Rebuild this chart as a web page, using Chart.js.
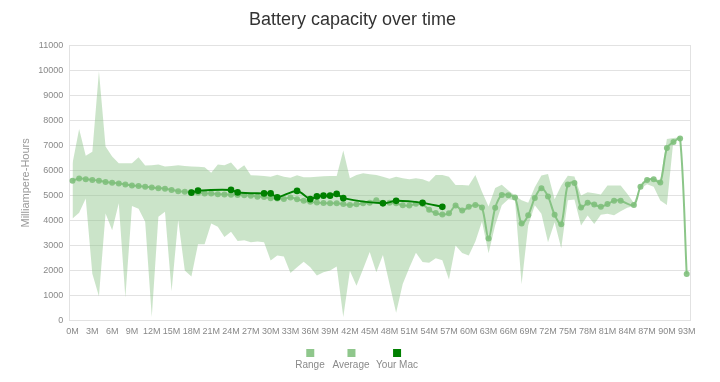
<!DOCTYPE html>
<html><head><meta charset="utf-8">
<script src="https://cdn.jsdelivr.net/npm/chart.js@4.4.0/dist/chart.umd.min.js"></script>
<style>
html,body{margin:0;padding:0;background:#fff;}
#wrap{position:relative;width:720px;height:382px;overflow:hidden;}
#legend .item{position:absolute;top:349px;transform:translateX(-50%);text-align:center;font-family:'Liberation Sans',Arial,sans-serif;font-size:10px;line-height:12px;color:#8a8a8a;white-space:nowrap;}
#legend .box{width:8px;height:8px;margin:0 auto 2px auto;}
</style></head><body>
<div id="wrap"><canvas id="c" width="720" height="382"></canvas><div id="legend"></div></div>
<script>
const months = [0,1,2,3,4,5,6,7,8,9,10,11,12,13,14,15,16,17,18,19,20,21,22,23,24,25,26,27,28,29,30,31,32,33,34,35,36,37,38,39,40,41,42,43,44,45,46,47,48,49,50,51,52,53,54,55,56,57,58,59,60,61,62,63,64,65,66,67,68,69,70,71,72,73,74,75,76,77,78,79,80,81,82,83,84,85,86,87,88,89,90,91,92,93];

const rangeHigh = [6290,7660,6590,6750,9970,6960,6560,6290,6290,6290,
 6530,6200,6210,6240,6160,6180,6210,6180,6160,6150,
 6130,5910,6240,6210,6320,6020,6210,5810,5800,5780,
 5750,5830,5750,5710,5810,5730,5730,5750,5770,5780,
 5780,6800,5690,5820,5890,5850,5820,5750,5670,5750,
 5690,5650,5690,5650,5550,5820,5820,5750,5420,5420,
 5400,5820,5150,4550,5300,5430,5200,5000,4800,4700,
 5330,5800,5860,4850,5400,5790,5760,5000,5130,5090,
 5040,5400,5400,5400,5070,4690,5400,5650,5690,5600,
 7260,7300,7330,1855];

const rangeLow = [4070,4300,4880,1860,960,4270,3600,4680,910,4570,
 4460,3940,130,4140,4340,1160,4010,1990,1750,3040,
 3040,3870,3740,3330,3540,3170,3200,3120,3150,3120,
 2390,2590,2550,1890,2120,2340,2120,1790,1920,1990,
 2150,130,1980,1380,2050,2730,1920,2610,1450,300,
 1450,2100,2700,2330,2300,2480,2400,1630,2990,2690,
 2590,3150,3950,2680,3800,4600,4850,4800,1440,3790,
 4600,4260,3120,3920,2880,4800,4840,3790,4190,3850,
 4220,4260,4200,4360,4500,4570,5280,5450,5350,4790,
 4610,7230,7290,1855];

const average = [5590,5680,5650,5620,5590,5540,5510,5480,5440,5400,
 5380,5350,5320,5290,5270,5220,5170,5150,5130,5110,
 5080,5080,5050,5040,5030,5020,5010,4990,4950,4940,
 4890,4880,4860,4920,4850,4780,4740,4710,4690,4680,
 4680,4650,4610,4640,4680,4700,4800,4700,4700,4680,
 4600,4590,4660,4650,4420,4290,4230,4280,4590,4390,
 4540,4610,4510,3270,4500,5020,5010,4920,3870,4200,
 4900,5290,4960,4220,3840,5440,5500,4510,4700,4630,
 4545,4650,4785,4785,null,4610,5350,5620,5650,5515,
 6895,7137,7280,1855];

const yourMac = [null,null,null,null,null,null,null,null,null,null,
 null,null,null,null,null,null,null,null,5110,5190,
 null,null,null,null,5220,5120,null,null,null,5080,
 5080,4920,null,null,5180,null,4850,4960,4990,4990,
 5060,4890,null,null,null,null,null,4680,null,4780,
 null,null,null,4700,null,null,4540,null,null,null,
 null,null,null,null,null,null,null,null,null,null,
 null,null,null,null,null,null,null,null,null,null,
 null,null,null,null,null,null,null,null,null,null,
 null,null,null,null];

const yMin = 0, yMax = 11000, yStep = 1000;
const legendItems = [
  {text:'Range', color:'#8fc78c', center:310},
  {text:'Average', color:'#8fc78c', center:351},
  {text:'Your Mac', color:'#008000', center:397}
];

const F = "'Liberation Sans', Arial, Helvetica, sans-serif";
const gridCol = '#e2e2e2';

new Chart(document.getElementById('c'), {
  type: 'line',
  data: {
    labels: months,
    datasets: [
      {label:'Range', data:rangeHigh, fill:'+1', backgroundColor:'rgba(140,196,136,0.45)', borderColor:'transparent', borderWidth:0, pointRadius:0, tension:0, order:3},
      {label:'Range low', data:rangeLow, fill:false, backgroundColor:'transparent', borderColor:'transparent', borderWidth:0, pointRadius:0, tension:0, order:4},
      {label:'Average', data:average, fill:false, borderColor:'rgba(128,192,124,0.9)', backgroundColor:'rgba(128,192,124,0.9)', borderWidth:2, pointRadius:3, pointBorderWidth:0, tension:0.3, spanGaps:true, order:2},
      {label:'Your Mac', data:yourMac, fill:false, borderColor:'#008000', backgroundColor:'#008000', borderWidth:2, pointRadius:3.3, pointBorderWidth:0, tension:0.3, spanGaps:true, order:1}
    ]
  },
  options: {
    responsive:false, animation:false, devicePixelRatio:1,
    layout:{padding:{left:15,right:30,top:0,bottom:39}},
    plugins:{
      legend:{display:false},
      tooltip:{enabled:false},
      title:{display:true,text:'Battery capacity over time',color:'#333',font:{size:18,weight:'normal',family:F},padding:{top:9,bottom:15}}
    },
    scales:{
      x:{type:'category',offset:true,
         grid:{display:false,drawTicks:false},border:{display:false},
         ticks:{autoSkip:false,maxRotation:0,minRotation:0,padding:6,color:'#888',font:{size:9,family:F},
                callback:function(v,i){ return months[i]%3===0 ? months[i]+'M' : ''; }}},
      y:{min:yMin,max:yMax,
         ticks:{stepSize:yStep,padding:6,color:'#888',font:{size:9,family:F},callback:function(v){ return String(v); }},
         grid:{color:gridCol,drawTicks:false},border:{display:true,color:gridCol},
         title:{display:true,text:'Milliampere-Hours',color:'#999',font:{size:11,family:F},padding:{top:4,bottom:0}}},
      y2:{position:'right',display:true,grid:{display:false,drawTicks:false},ticks:{display:false},border:{display:true,color:gridCol}}
    }
  }
});

const lg = document.getElementById('legend');
legendItems.forEach(function(it){
  const d = document.createElement('div'); d.className='item'; d.style.left = it.center+'px';
  const b = document.createElement('div'); b.className='box'; b.style.background = it.color;
  const t = document.createElement('div'); t.textContent = it.text;
  d.appendChild(b); d.appendChild(t); lg.appendChild(d);
});
</script>
</body></html>
